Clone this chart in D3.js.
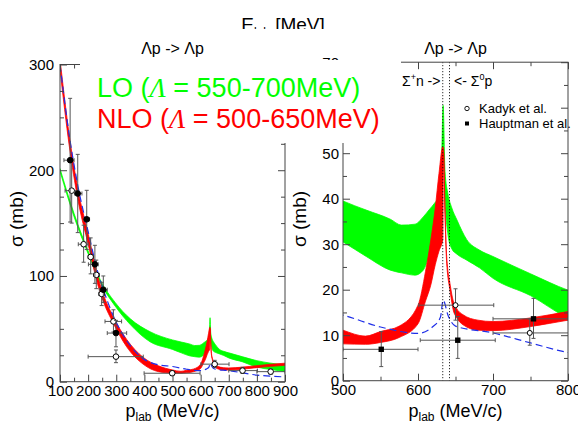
<!DOCTYPE html>
<html>
<head>
<meta charset="UTF-8">
<script src="https://d3js.org/d3.v7.min.js"></script>
<style>
  body { margin: 0; background: #fff; }
  text { font-family: "Liberation Sans", Arial, Helvetica, sans-serif; }
</style>
</head>
<body>
<svg id="canvas"></svg>
<script>
// ---- data (p_lab in MeV/c, sigma in mb) ----
const greenP  = [100, 150, 207, 242, 296, 350, 420, 500, 531, 563, 578, 596, 607, 616, 622, 627, 631, 633.5, 636, 640, 645, 652, 665, 682, 700, 750, 800, 850, 900];
const greenHi = [201.5, 159, 119, 97, 75, 59.5, 47.3, 39.5, 37.5, 35.5, 34.2, 34.4, 36, 37.8, 39, 40.4, 46, 60.5, 46, 41, 38, 35.3, 31, 28.7, 27.3, 23.5, 19.9, 17.5, 15.8];
const greenLo = [199, 156, 116.5, 94.5, 71.5, 54, 37.8, 30.5, 27.3, 24.3, 23.7, 23.2, 24.3, 28, 31, 35, 42, 52, 40, 32, 29, 27.8, 26.5, 24.8, 22.5, 18.7, 13.8, 11.5, 9.5];

const redP  = [100, 133, 163, 201, 234, 253, 290, 337, 396, 450, 500, 530, 550, 575, 600, 610, 617, 623, 628, 633, 634, 636, 638, 643, 647, 651, 660, 680, 700, 750, 800, 850, 900];
const redHi = [305, 233, 183, 139, 100, 83.5, 61, 40, 23, 15, 11.1, 9.8, 10.8, 12, 16.6, 24, 30.9, 38, 45.6, 51.4, 51, 38, 28, 21, 17.5, 16, 14.5, 13.3, 13, 13.8, 15.2, 16.5, 17.5];
const redLo = [295, 223, 173, 129, 92, 76.5, 55, 33, 16.5, 9.5, 8.1, 8.0, 8.4, 9.5, 12.5, 17.5, 21, 25.5, 28.5, 31, 50, 36.5, 26.5, 19.5, 15.5, 14, 12.3, 11.1, 11, 11.9, 13.3, 14.5, 15.5];

const blueP = [100, 133, 163, 201, 234, 253, 290, 337, 395, 450, 500, 550, 600, 620, 630, 633.5, 640, 650, 700, 750, 800, 850, 900];
const blueV = [300, 233, 186, 141, 104, 88, 62, 39, 22, 16, 14.4, 11.8, 10.4, 11.9, 14, 17.7, 14.4, 12, 10.5, 8.3, 6.2, 5.3, 4.5];

// [p, sigma, pLo, pHi, sigmaLo, sigmaHi]
const openPts = [
  [141.5, 180.7, 118, 164, 150, 210],
  [184, 130, 165, 200, 113, 148],
  [209, 118, 200, 218, 102, 136],
  [229, 101, 220, 240, 88, 115],
  [248, 83, 238, 258, 72, 94],
  [290, 57, 260, 319, 47, 68],
  [299, 23.7, 200, 396, 18, 30],
  [499, 8, 399, 598, 6, 10],
  [650, 16.6, 601, 701, 13.3, 20.2],
  [749, 10.5, 700, 802, 7.8, 13.6],
  [849, 9.5, 800, 900, 7, 12]
];
const filledPts = [
  [136, 209.5, 114, 150, 151, 268],
  [163, 178, 152, 178, 141, 215],
  [195, 153.6, 185, 205, 125, 181],
  [224, 111, 201, 236, 93, 129],
  [254, 87, 240, 268, 75, 100],
  [299, 46, 268, 337, 33, 58]
];
const hauptPts = [
  [551, 6.9, 500, 600, 3.1, 10.8],
  [653, 8.9, 603, 703, 4.9, 14.1],
  [754, 13.6, 700, 800, 9.3, 18.1]
];
const thresholds = [633, 642];

// ---- canvas ----
const W = 578, H = 421;
const svg = d3.select("#canvas").attr("width", W).attr("height", H);
svg.append("rect").attr("width", W).attr("height", H).attr("fill", "#fff");

const axisColor = "#444";

const panels = [
  { id: "L",
    x: d3.scaleLinear().domain([100, 900]).range([60, 285]),
    y: d3.scaleLinear().domain([0, 300]).range([381.7, 64.5]),
    xMajor: d3.range(100, 901, 100), xMinor: d3.range(150, 900, 100),
    yMajor: [0, 100, 200, 300], yMinor: d3.range(25, 300, 25).filter(v => v % 100),
    ypad: 6, pts: [[openPts, "open"], [filledPts, "dot"]], dotted: false, r: 2.8 },
  { id: "R",
    x: d3.scaleLinear().domain([500, 800]).range([343, 568]),
    y: d3.scaleLinear().domain([0, 70]).range([380.7, 62.2]),
    xMajor: [500, 600, 700, 800], xMinor: [550, 650, 750],
    yMajor: d3.range(0, 71, 10), yMinor: d3.range(5, 70, 10),
    ypad: 4, pts: [[openPts, "open"], [hauptPts, "square"]], dotted: true, r: 2.5 }
];

panels.forEach(P => {
  const x = P.x, y = P.y;
  const [x0, x1] = x.range(), [y0, y1] = y.range();
  const g = svg.append("g");

  g.append("clipPath").attr("id", "clip" + P.id)
    .append("rect").attr("x", x0).attr("y", y1).attr("width", x1 - x0).attr("height", y0 - y1);
  const plot = g.append("g").attr("clip-path", `url(#clip${P.id})`);

  const band = (ps, lo, hi) => d3.area()
      .x(i => x(ps[i])).y0(i => y(lo[i])).y1(i => y(hi[i]))
      .curve(d3.curveMonotoneX)(d3.range(ps.length));

  plot.append("path").attr("d", band(greenP, greenLo, greenHi))
    .attr("fill", "#00ff00").attr("stroke", "#00ff00").attr("stroke-width", 0.8);
  plot.append("path").attr("d", band(redP, redLo, redHi))
    .attr("fill", "#ff0000").attr("stroke", "#ff0000").attr("stroke-width", 0.8);

  plot.append("path")
    .attr("d", d3.line().x(i => x(blueP[i])).y(i => y(blueV[i])).curve(d3.curveMonotoneX)(d3.range(blueP.length)))
    .attr("fill", "none").attr("stroke", "#1f2fe8").attr("stroke-width", 1.2)
    .attr("stroke-dasharray", "7,4");

  if (P.dotted) {
    plot.selectAll("line.thr").data(thresholds).enter().append("line")
      .attr("x1", d => x(d)).attr("x2", d => x(d)).attr("y1", y1).attr("y2", y0)
      .attr("stroke", "#000").attr("stroke-width", 1).attr("stroke-dasharray", "1,2");
  }

  // data points with error bars
  const [dMin, dMax] = x.domain();
  P.pts.forEach(([arr, kind]) => {
    const pts = arr.filter(d => d[0] >= dMin && d[0] <= dMax);
    const eg = plot.append("g").attr("stroke", "#555").attr("stroke-width", 1);
    pts.forEach(d => {
      eg.append("line").attr("x1", x(d[2])).attr("x2", x(d[3])).attr("y1", y(d[1])).attr("y2", y(d[1]));
      eg.append("line").attr("x1", x(d[0])).attr("x2", x(d[0])).attr("y1", y(d[4])).attr("y2", y(d[5]));
      [d[4], d[5]].forEach(v => eg.append("line")
        .attr("x1", x(d[0]) - 2).attr("x2", x(d[0]) + 2).attr("y1", y(v)).attr("y2", y(v)));
      [d[2], d[3]].forEach(v => eg.append("line")
        .attr("x1", x(v)).attr("x2", x(v)).attr("y1", y(d[1]) - 2).attr("y2", y(d[1]) + 2));
    });
    if (kind === "square") {
      plot.selectAll(null).data(pts).enter().append("rect")
        .attr("x", d => x(d[0]) - 2.7).attr("y", d => y(d[1]) - 2.7)
        .attr("width", 5.4).attr("height", 5.4).attr("fill", "#000");
    } else {
      plot.selectAll(null).data(pts).enter().append("circle")
        .attr("cx", d => x(d[0])).attr("cy", d => y(d[1])).attr("r", P.r)
        .attr("fill", kind === "open" ? "#fff" : "#000")
        .attr("stroke", "#000").attr("stroke-width", 1);
    }
  });

  // axes, ticks pointing inward
  const fontFam = "Liberation Sans, Arial, sans-serif";
  const addAxis = (gen, tx, ty, vals, size, labels, pad) => {
    const a = g.append("g").attr("transform", `translate(${tx},${ty})`)
      .call(gen.tickValues(vals).tickSize(-size).tickSizeOuter(0).tickPadding(pad || 4)
        .tickFormat(labels ? d3.format("d") : ""));
    a.select(".domain").remove();
    a.attr("font-size", 15).attr("font-family", fontFam);
    a.selectAll("line").attr("stroke", axisColor);
    a.selectAll("text").attr("fill", "#000");
  };
  addAxis(d3.axisBottom(x), 0, y0, P.xMajor, 7, true, 4);
  addAxis(d3.axisBottom(x), 0, y0, P.xMinor, 4, false);
  addAxis(d3.axisTop(x), 0, y1, P.xMajor, 7, false);
  addAxis(d3.axisTop(x), 0, y1, P.xMinor, 4, false);
  addAxis(d3.axisLeft(y), x0, 0, P.yMajor, 7, true, P.ypad);
  addAxis(d3.axisLeft(y), x0, 0, P.yMinor, 4, false);
  addAxis(d3.axisRight(y), x1, 0, P.yMajor, 7, false);
  addAxis(d3.axisRight(y), x1, 0, P.yMinor, 4, false);

  g.append("rect").attr("x", x0).attr("y", y1).attr("width", x1 - x0).attr("height", y0 - y1)
    .attr("fill", "none").attr("stroke", axisColor).attr("stroke-width", 1);

  // titles and axis labels
  const cx = (x0 + x1) / 2;
  g.append("text").attr("x", cx).attr("y", 54).attr("text-anchor", "middle")
    .attr("font-size", 16).text("Λp -> Λp");
  const xl = g.append("text").attr("x", cx).attr("y", 417).attr("text-anchor", "middle").attr("font-size", 18);
  xl.append("tspan").text("p");
  xl.append("tspan").attr("font-size", 12).attr("dy", 4).text("lab");
  xl.append("tspan").attr("dy", -4).text(" (MeV/c)");
  g.append("text").attr("transform", `translate(${x0 - 37},219) rotate(-90)`)
    .attr("text-anchor", "middle").attr("font-size", 19).text("σ (mb)");
});

// white box behind the big legend (covers frames as in the original figure)
svg.append("rect").attr("x", 80).attr("y", 60).attr("width", 321).attr("height", 83).attr("fill", "#fff");

const lo = svg.append("text").attr("x", 97).attr("y", 97).attr("font-size", 27).attr("fill", "#00ff00");
lo.append("tspan").text("LO (");
lo.append("tspan").attr("font-style", "italic").attr("font-family", "Liberation Serif, serif").text("Λ");
lo.append("tspan").text(" = 550-700MeV)");
const nlo = svg.append("text").attr("x", 97).attr("y", 128).attr("font-size", 27).attr("fill", "#ff0000");
nlo.append("tspan").text("NLO (");
nlo.append("tspan").attr("font-style", "italic").attr("font-family", "Liberation Serif, serif").text("Λ");
nlo.append("tspan").text(" = 500-650MeV)");

// threshold labels and legend in the right panel
const s1 = svg.append("text").attr("x", 402).attr("y", 86).attr("font-size", 14);
s1.append("tspan").text("Σ");
s1.append("tspan").attr("font-size", 9).attr("dy", -6).text("+");
s1.append("tspan").attr("dy", 6).text("n ->");
const s2 = svg.append("text").attr("x", 454).attr("y", 86).attr("font-size", 14);
s2.append("tspan").text("<- Σ");
s2.append("tspan").attr("font-size", 9).attr("dy", -6).text("0");
s2.append("tspan").attr("dy", 6).text("p");

svg.append("circle").attr("cx", 467).attr("cy", 108.5).attr("r", 2.2)
  .attr("fill", "#fff").attr("stroke", "#000").attr("stroke-width", 0.9);
svg.append("text").attr("x", 479).attr("y", 113).attr("font-size", 13).text("Kadyk et al.");
svg.append("rect").attr("x", 465).attr("y", 121.5).attr("width", 4).attr("height", 4).attr("fill", "#000");
svg.append("text").attr("x", 479).attr("y", 128).attr("font-size", 13).text("Hauptman et al.");

// cut-off upper axis caption
svg.append("clipPath").attr("id", "clipTop").append("rect").attr("x", 0).attr("y", 0).attr("width", W).attr("height", 29);
const el = svg.append("text").attr("clip-path", "url(#clipTop)").attr("x", 283).attr("y", 31)
  .attr("text-anchor", "middle").attr("font-size", 19).attr("font-family", "Liberation Serif, Times New Roman, serif");
el.append("tspan").text("E");
el.append("tspan").attr("font-size", 12).attr("dy", 5).text("lab");
el.append("tspan").attr("dy", -5).text(" [MeV]");
</script>
</body>
</html>
